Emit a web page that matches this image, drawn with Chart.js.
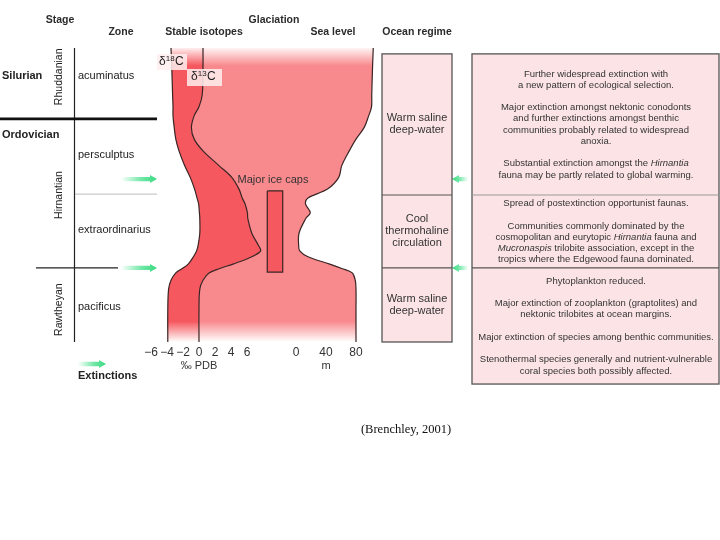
<!DOCTYPE html>
<html>
<head>
<meta charset="utf-8">
<script src="https://cdn.jsdelivr.net/npm/chart.js@4.4.0/dist/chart.umd.min.js"></script>
<style>
  html, body { margin: 0; padding: 0; background: #fff; }
</style>
</head>
<body>
<canvas id="myChart" width="720" height="540"></canvas>
<script>
// stratigraphic level: 0 = top of the column, 100 = base
const depthLevels = [0, 7, 16, 20, 23, 27, 31, 35, 40, 44, 48, 51, 53, 56, 58, 63, 67, 69, 71, 73.5, 75, 76.5, 79, 82, 89, 100];
const delta18O = [-3.5, -3.4, -3.3, -3.25, -3.25, -3.1, -2.9, -2.5, -1.8, -1.1, -0.55, -0.25, -0.05, 0.05, 0.1, 0.1, -0.1, -0.3, -0.7, -1.35, -2.1, -2.9, -3.5, -3.8, -3.9, -3.9];
const delta13C = [0.5, 0.5, 0.4, 0, -0.6, -0.95, -0.6, 0.5, 2.5, 4.1, 5.0, 5.4, 5.75, 6.05, 6.1, 6.6, 7.4, 7.7, 6.6, 4.25, 2.6, 1.25, 0.5, 0.1, 0, 0];
const seaLevel = [103, 102, 101, 100.7, 97, 91, 80, 71, 61, 57, 42, 16, 12.7, 19, 13, 4, 3.5, 5, 16, 45, 61, 75, 79, 80, 80, 80];

const isotopeTicks = [-6, -4, -2, 0, 2, 4, 6];
const seaLevelTicks = [0, 40, 80];

const iceCapLevels = [48.6, 76.2];
const iceCapSpan = [-38.3, -17.7];

const periods = ['Silurian', 'Ordovician'];
const periodAt = [9.5, 29.6];
const stages = ['Rhuddanian', 'Hirnantian', 'Rawtheyan'];
const stageAt = [9.8, 50, 89];
const zones = ['acuminatus', 'persculptus', 'extraordinarius', 'pacificus'];
const zoneAt = [9.5, 36.5, 62, 88];
const periodBoundary = 24.1;
const zoneBoundary = 49.7;
const stageBoundary = 74.8;
const extinctionLevels = [44.6, 74.8];

const regimeBounds = [2, 50, 74.8, 100];
const regimes = [['Warm saline', 'deep-water'], ['Cool', 'thermohaline', 'circulation'], ['Warm saline', 'deep-water']];
const faunaBounds = [2, 50, 74.8, 114.3];
const faunaNotes = [
  [
    ['Further widespread extinction with', 'a new pattern of ecological selection.'],
    ['Major extinction amongst nektonic conodonts', 'and further extinctions amongst benthic', 'communities probably related to widespread', 'anoxia.'],
    ['Substantial extinction amongst the *Hirnantia*', 'fauna may be partly related to global warming.']
  ],
  [
    ['Spread of postextinction opportunist faunas.'],
    ['Communities commonly dominated by the', 'cosmopolitan and eurytopic *Hirnantia* fauna and', '*Mucronaspis* trilobite association, except in the', 'tropics where the Edgewood fauna dominated.']
  ],
  [
    ['Phytoplankton reduced.'],
    ['Major extinction of zooplankton (graptolites) and', 'nektonic trilobites at ocean margins.'],
    ['Major extinction of species among benthic communities.'],
    ['Stenothermal species generally and nutrient-vulnerable', 'coral species both possibly affected.']
  ]
];

const FONT = '"Liberation Sans", Arial, sans-serif';
const DARK = '245,88,94';
const LIGHT = '248,138,142';
const INK = '#3a2424';

function curve(values) {
  return values.map((v, i) => ({ x: v, y: depthLevels[i] }));
}

function fmt(v) {
  return v < 0 ? '\u2212' + Math.abs(v) : String(v);
}

function fade(ctx, area, rgb) {
  const g = ctx.createLinearGradient(0, area.top, 0, area.bottom);
  g.addColorStop(0, 'rgba(' + rgb + ',0.1)');
  g.addColorStop(0.06, 'rgba(' + rgb + ',1)');
  g.addColorStop(0.93, 'rgba(' + rgb + ',1)');
  g.addColorStop(1, 'rgba(' + rgb + ',0)');
  return g;
}

// fills the area between two line datasets (following their bezier paths),
// and the inside of closed outlines
const bandFill = {
  id: 'bandFill',
  beforeDatasetsDraw(chart, args, opts) {
    const { ctx, chartArea } = chart;
    opts.bands.forEach(b => {
      const ma = chart.getDatasetMeta(b.from);
      const mb = chart.getDatasetMeta(b.to);
      if (ma.dataset && ma.dataset.updateControlPoints) ma.dataset.updateControlPoints(chartArea, 'x');
      if (mb.dataset && mb.dataset.updateControlPoints) mb.dataset.updateControlPoints(chartArea, 'x');
      const p = ma.data, q = mb.data;
      ctx.save();
      ctx.beginPath();
      ctx.moveTo(p[0].x, p[0].y);
      for (let i = 1; i < p.length; i++) {
        ctx.bezierCurveTo(p[i - 1].cp2x, p[i - 1].cp2y, p[i].cp1x, p[i].cp1y, p[i].x, p[i].y);
      }
      ctx.lineTo(q[q.length - 1].x, q[q.length - 1].y);
      for (let i = q.length - 1; i > 0; i--) {
        ctx.bezierCurveTo(q[i].cp1x, q[i].cp1y, q[i - 1].cp2x, q[i - 1].cp2y, q[i - 1].x, q[i - 1].y);
      }
      ctx.closePath();
      ctx.fillStyle = fade(ctx, chartArea, b.rgb);
      ctx.fill();
      ctx.restore();
    });
    opts.shapes.forEach(s => {
      const pts = chart.getDatasetMeta(s.index).data;
      ctx.save();
      ctx.beginPath();
      pts.forEach((pt, i) => (i ? ctx.lineTo(pt.x, pt.y) : ctx.moveTo(pt.x, pt.y)));
      ctx.closePath();
      ctx.fillStyle = 'rgb(' + s.rgb + ')';
      ctx.fill();
      ctx.restore();
    });
  }
};

function txt(ctx, s, x, y, font, align, color) {
  ctx.font = font;
  ctx.textAlign = align || 'left';
  ctx.fillStyle = color || '#2b2b2b';
  ctx.fillText(s, x, y);
}

function richLine(ctx, line, cx, y, size) {
  const parts = line.split('*');
  let total = 0;
  parts.forEach((p, i) => {
    ctx.font = (i % 2 ? 'italic ' : '') + size + 'px ' + FONT;
    total += ctx.measureText(p).width;
  });
  let x = cx - total / 2;
  ctx.textAlign = 'left';
  ctx.fillStyle = '#333';
  parts.forEach((p, i) => {
    ctx.font = (i % 2 ? 'italic ' : '') + size + 'px ' + FONT;
    ctx.fillText(p, x, y);
    x += ctx.measureText(p).width;
  });
}

function arrow(ctx, tail, tip, y) {
  const dir = Math.sign(tip - tail);
  const g = ctx.createLinearGradient(tail, 0, tip, 0);
  g.addColorStop(0, 'rgba(70,225,140,0)');
  g.addColorStop(0.55, 'rgba(70,225,140,0.75)');
  g.addColorStop(1, 'rgba(55,215,125,1)');
  ctx.fillStyle = g;
  const hl = 7, bh = 2.2, hh = 4;
  ctx.beginPath();
  ctx.moveTo(tail, y - bh);
  ctx.lineTo(tip - dir * hl, y - bh);
  ctx.lineTo(tip - dir * hl, y - hh);
  ctx.lineTo(tip, y);
  ctx.lineTo(tip - dir * hl, y + hh);
  ctx.lineTo(tip - dir * hl, y + bh);
  ctx.lineTo(tail, y + bh);
  ctx.closePath();
  ctx.fill();
}

function hline(ctx, x0, x1, y, w, color) {
  ctx.beginPath();
  ctx.moveTo(x0, y);
  ctx.lineTo(x1, y);
  ctx.lineWidth = w;
  ctx.strokeStyle = color;
  ctx.stroke();
}

const diagram = {
  id: 'diagram',
  afterDatasetsDraw(chart) {
    const ctx = chart.ctx;
    const Y = v => chart.scales.y.getPixelForValue(v);
    const top = chart.chartArea.top, bottom = chart.chartArea.bottom;
    ctx.save();
    ctx.textBaseline = 'middle';

    // headers
    const hf = 'bold 10.5px ' + FONT;
    txt(ctx, 'Stage', 60, 20, hf, 'center');
    txt(ctx, 'Zone', 121, 32, hf, 'center');
    txt(ctx, 'Stable isotopes', 204, 32, hf, 'center');
    txt(ctx, 'Glaciation', 274, 20, hf, 'center');
    txt(ctx, 'Sea level', 333, 32, hf, 'center');
    txt(ctx, 'Ocean regime', 417, 32, hf, 'center');

    // stratigraphic table
    periods.forEach((p, i) => txt(ctx, p, 2, Y(periodAt[i]), 'bold 11px ' + FONT, 'left', '#222'));
    zones.forEach((z, i) => txt(ctx, z, 78, Y(zoneAt[i]), '11px ' + FONT, 'left', '#222'));
    stages.forEach((s, i) => {
      ctx.save();
      ctx.translate(59, Y(stageAt[i]));
      ctx.rotate(-Math.PI / 2);
      txt(ctx, s, 0, 0, '10.5px ' + FONT, 'center', '#222');
      ctx.restore();
    });
    ctx.beginPath();
    ctx.moveTo(74.5, top);
    ctx.lineTo(74.5, bottom);
    ctx.lineWidth = 1.2;
    ctx.strokeStyle = '#222';
    ctx.stroke();
    hline(ctx, 0, 157, Y(periodBoundary), 2.6, '#111');
    hline(ctx, 75, 157, Y(zoneBoundary), 1, '#bdbdbd');
    hline(ctx, 36, 118, Y(stageBoundary), 1.2, '#222');

    // extinction arrows
    extinctionLevels.forEach(l => {
      arrow(ctx, 121, 157, Y(l));
      arrow(ctx, 468, 452, Y(l));
    });
    arrow(ctx, 78, 106, 364);
    txt(ctx, 'Extinctions', 78, 376, 'bold 11px ' + FONT, 'left', '#222');

    // isotope and axis labels
    ctx.fillStyle = 'rgba(255,238,238,0.85)';
    ctx.fillRect(157, 54, 30, 16);
    ctx.fillRect(187, 69, 35, 17);
    const iso = (x, y, sup) => {
      ctx.font = '12px ' + FONT; ctx.textAlign = 'left'; ctx.fillStyle = '#222';
      ctx.fillText('\u03b4', x, y);
      const w1 = ctx.measureText('\u03b4').width;
      ctx.font = '8px ' + FONT;
      ctx.fillText(sup, x + w1, y - 3);
      const w2 = ctx.measureText(sup).width;
      ctx.font = '12px ' + FONT;
      ctx.fillText('C', x + w1 + w2 + 0.5, y);
    };
    iso(159, 62, '18');
    iso(191, 77, '13');
    txt(ctx, 'Major ice caps', 273, 180, '11px ' + FONT, 'center', '#333');
    txt(ctx, '\u2030 PDB', 199, 366, '11px ' + FONT, 'center', '#333');
    txt(ctx, 'm', 326, 366, '11px ' + FONT, 'center', '#333');

    // ocean regime column
    const yb = regimeBounds.map(Y);
    ctx.fillStyle = '#fce4e6';
    ctx.fillRect(382, yb[0], 70, yb[3] - yb[0]);
    ctx.strokeStyle = '#555';
    ctx.lineWidth = 1.3;
    ctx.strokeRect(382, yb[0], 70, yb[3] - yb[0]);
    for (let i = 1; i < 3; i++) hline(ctx, 382, 452, yb[i], 1.2, '#555');
    regimes.forEach((lines, i) => {
      const c = (yb[i] + yb[i + 1]) / 2;
      lines.forEach((s, j) => txt(ctx, s, 417, c + (j - (lines.length - 1) / 2) * 12, '11px ' + FONT, 'center', '#333'));
    });

    // fauna notes column
    const fb = faunaBounds.map(Y);
    ctx.fillStyle = '#fce4e6';
    ctx.fillRect(472, fb[0], 247, fb[3] - fb[0]);
    ctx.strokeStyle = '#555';
    ctx.lineWidth = 1.3;
    ctx.strokeRect(472, fb[0], 247, fb[3] - fb[0]);
    hline(ctx, 472, 719, fb[1], 1, '#999');
    hline(ctx, 472, 719, fb[2], 1.2, '#555');
    const lh = 11.2, gap = 11.3;
    faunaNotes.forEach((paras, i) => {
      const n = paras.reduce((a, p) => a + p.length, 0);
      const h = n * lh + (paras.length - 1) * gap;
      let y = (fb[i] + fb[i + 1]) / 2 - (h - lh) / 2;
      paras.forEach(p => {
        p.forEach(line => { richLine(ctx, line, 596, y, 9.5); y += lh; });
        y += gap;
      });
    });

    txt(ctx, '(Brenchley, 2001)', 406, 430, '12.5px "Liberation Serif", "Times New Roman", serif', 'center', '#111');
    ctx.restore();
  }
};

const iceBox = [
  { x: iceCapSpan[0], y: iceCapLevels[0] },
  { x: iceCapSpan[1], y: iceCapLevels[0] },
  { x: iceCapSpan[1], y: iceCapLevels[1] },
  { x: iceCapSpan[0], y: iceCapLevels[1] },
  { x: iceCapSpan[0], y: iceCapLevels[0] }
];

new Chart(document.getElementById('myChart'), {
  type: 'scatter',
  data: {
    datasets: [
      { label: 'd18O', data: curve(delta18O), xAxisID: 'x', showLine: true },
      { label: 'd13C', data: curve(delta13C), xAxisID: 'x', showLine: true },
      { label: 'Sea level', data: curve(seaLevel), xAxisID: 'x2', showLine: true },
      { label: 'Major ice caps', data: iceBox, xAxisID: 'x2', showLine: true, tension: 0 }
    ]
  },
  options: {
    responsive: false,
    animation: false,
    events: [],
    layout: { padding: { left: 140, right: 340, top: 48, bottom: 198 } },
    elements: {
      point: { radius: 0, hoverRadius: 0 },
      line: { tension: 0.35, borderWidth: 1.2, borderColor: INK }
    },
    plugins: {
      legend: { display: false },
      tooltip: { enabled: false },
      bandFill: {
        bands: [{ from: 0, to: 1, rgb: DARK }, { from: 1, to: 2, rgb: LIGHT }],
        shapes: [{ index: 3, rgb: DARK }]
      }
    },
    scales: {
      y: { type: 'linear', display: false, min: 0, max: 100, reverse: true },
      x: {
        type: 'linear', position: { y: 100 }, min: -7.375, max: 22.625,
        grid: { display: false, drawTicks: false }, border: { display: false },
        afterBuildTicks: s => { s.ticks = isotopeTicks.map(v => ({ value: v })); },
        ticks: { padding: 3, color: '#333', font: { size: 12, family: FONT }, autoSkip: false, maxRotation: 0, callback: v => fmt(v) }
      },
      x2: {
        type: 'linear', position: { y: 100 }, min: -208, max: 112,
        grid: { display: false, drawTicks: false }, border: { display: false },
        afterBuildTicks: s => { s.ticks = seaLevelTicks.map(v => ({ value: v })); },
        ticks: { padding: 3, color: '#333', font: { size: 12, family: FONT }, autoSkip: false, maxRotation: 0, callback: v => fmt(v) }
      }
    }
  },
  plugins: [bandFill, diagram]
});
</script>
</body>
</html>
